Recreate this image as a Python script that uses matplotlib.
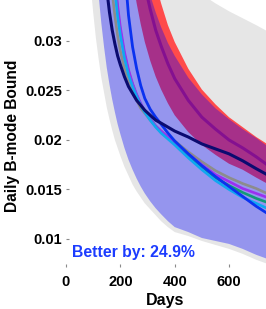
import numpy as np
import matplotlib
matplotlib.use("Agg")
import matplotlib.pyplot as plt

plt.rcParams['font.family'] = ['Liberation Sans', 'DejaVu Sans']
plt.rcParams['font.weight'] = 'bold'

# values (points above the top edge are just clipped)
days = [90, 100, 110, 120, 130, 140, 150, 160, 170, 180, 190, 200, 215, 230, 245,
        260, 275, 290, 310, 330, 350, 375, 400, 450, 500, 550, 600, 650, 700, 740]

# light gray envelope
env_lo = [0.0359, 0.0329, 0.0303, 0.0282, 0.0263, 0.0248, 0.0233, 0.0221, 0.0210, 0.0200,
          0.0192, 0.0184, 0.0173, 0.0164, 0.0155, 0.0148, 0.0142, 0.0136, 0.0130, 0.0124,
          0.0118, 0.0112, 0.0107, 0.0103, 0.0098, 0.0094, 0.0090, 0.0085, 0.0079, 0.0075]
env_hi = [0.20, 0.20, 0.20, 0.20, 0.20, 0.20, 0.20, 0.20, 0.20, 0.20,
          0.20, 0.20, 0.20, 0.20, 0.20, 0.20, 0.20, 0.20, 0.20, 0.20,
          0.20, 0.0410, 0.0390, 0.0362, 0.0347, 0.0338, 0.0330, 0.0323, 0.0316, 0.0310]

# blue band
blue_lo = [0.0476, 0.0423, 0.0380, 0.0346, 0.0318, 0.0294, 0.0273, 0.0256, 0.0241, 0.0228,
           0.0216, 0.0206, 0.0192, 0.0180, 0.0170, 0.0161, 0.0153, 0.0146, 0.0138, 0.0131,
           0.0125, 0.0118, 0.0112, 0.0107, 0.0101, 0.0098, 0.0095, 0.0090, 0.0084, 0.0080]
blue_hi = [0.150, 0.140, 0.130, 0.120, 0.110, 0.100, 0.087, 0.078, 0.070, 0.064,
           0.059, 0.0551, 0.0503, 0.0465, 0.0433, 0.0407, 0.0385, 0.0366, 0.0346, 0.0329,
           0.0314, 0.0298, 0.0285, 0.0263, 0.0246, 0.0232, 0.0221, 0.0211, 0.0202, 0.0194]

# red band and its centre line
red_lo = [0.130, 0.120, 0.110, 0.100, 0.095, 0.090, 0.085, 0.080, 0.068, 0.060,
          0.054, 0.0493, 0.0437, 0.0396, 0.0363, 0.0338, 0.0317, 0.0299, 0.0280, 0.0264,
          0.0251, 0.0237, 0.0225, 0.0208, 0.0195, 0.0185, 0.0176, 0.0170, 0.0162, 0.0156]
red_hi = [0.190, 0.180, 0.170, 0.160, 0.155, 0.150, 0.140, 0.1276, 0.1008, 0.0881,
          0.0786, 0.0712, 0.0626, 0.0562, 0.0512, 0.0472, 0.0440, 0.0412, 0.0383, 0.0358,
          0.0338, 0.0316, 0.0299, 0.0272, 0.0251, 0.0236, 0.0223, 0.0213, 0.0203, 0.0196]
red_mid = [0.160, 0.150, 0.140, 0.130, 0.125, 0.120, 0.110, 0.104, 0.085, 0.074,
           0.066, 0.0600, 0.0532, 0.0479, 0.0437, 0.0405, 0.0379, 0.0356, 0.0332, 0.0311,
           0.0295, 0.0277, 0.0262, 0.0240, 0.0223, 0.0211, 0.0200, 0.0192, 0.0183, 0.0175]

# lines
navy = [0.120, 0.0848, 0.0610, 0.0496, 0.0429, 0.0385, 0.0352, 0.0329, 0.0311, 0.0297,
        0.0285, 0.0276, 0.0264, 0.0254, 0.0247, 0.0240, 0.0235, 0.0230, 0.0225, 0.0220,
        0.0217, 0.0213, 0.0209, 0.0203, 0.0196, 0.0191, 0.0186, 0.0179, 0.0171, 0.0165]
blue_line = [0.200, 0.190, 0.180, 0.170, 0.160, 0.150, 0.130, 0.110, 0.090, 0.075,
             0.0564, 0.0461, 0.0375, 0.0326, 0.0294, 0.0272, 0.0255, 0.0242, 0.0231, 0.0223,
             0.0216, 0.0207, 0.0199, 0.0186, 0.0174, 0.0163, 0.0153, 0.0143, 0.0133, 0.0126]
purple = [0.300, 0.250, 0.200, 0.150, 0.108, 0.0708, 0.0545, 0.0459, 0.0403, 0.0364,
          0.0336, 0.0314, 0.0289, 0.0271, 0.0257, 0.0246, 0.0237, 0.0229, 0.0221, 0.0214,
          0.0209, 0.0203, 0.0198, 0.0186, 0.0175, 0.0165, 0.0158, 0.0151, 0.0146, 0.0142]
gray_line = [0.300, 0.200, 0.130, 0.0854, 0.0619, 0.0502, 0.0429, 0.0383, 0.0349, 0.0325,
             0.0305, 0.0290, 0.0272, 0.0259, 0.0248, 0.0240, 0.0232, 0.0227, 0.0220, 0.0214,
             0.0209, 0.0203, 0.0199, 0.0188, 0.0178, 0.0169, 0.0162, 0.0156, 0.0151, 0.0146]
teal = [0.300, 0.250, 0.200, 0.145, 0.097, 0.0666, 0.0523, 0.0445, 0.0394, 0.0358,
        0.0331, 0.0310, 0.0286, 0.0269, 0.0256, 0.0245, 0.0236, 0.0229, 0.0221, 0.0214,
        0.0208, 0.0202, 0.0197, 0.0184, 0.0173, 0.0162, 0.0154, 0.0147, 0.0141, 0.0137]
cyan = [0.300, 0.250, 0.200, 0.140, 0.087, 0.0625, 0.0502, 0.0431, 0.0384, 0.0351,
        0.0325, 0.0306, 0.0283, 0.0266, 0.0254, 0.0244, 0.0235, 0.0228, 0.0220, 0.0213,
        0.0207, 0.0201, 0.0195, 0.0182, 0.0170, 0.0159, 0.0150, 0.0142, 0.0136, 0.0131]

xticks = [0, 200, 400, 600]
yticks = [0.01, 0.015, 0.02, 0.025, 0.03]
ytick_labels = ['0.01', '0.015', '0.02', '0.025', '0.03']
note = 'Better by: 24.9%'

fig = plt.figure(figsize=(2.66, 3.09), dpi=100)
ax = fig.add_axes([66 / 266, 42 / 309, 200 / 266, 267 / 309])

ax.fill_between(days, env_lo, env_hi, color='#e6e6e6', lw=0, zorder=1)
ax.fill_between(days, red_lo, red_hi, color='#ff4b4b', lw=0, zorder=2)
ax.plot(days, red_mid, color='#cc1a55', lw=2.2, zorder=3)
ax.fill_between(days, blue_lo, blue_hi, color='#0000ff', alpha=0.35, lw=0, zorder=4)

ax.plot(days, gray_line, color='#8c8c8c', lw=1.9, zorder=5)
ax.plot(days, teal, color='#129a78', lw=1.9, zorder=5)
ax.plot(days, purple, color='#9b30f0', lw=1.9, zorder=6)
ax.plot(days, cyan, color='#10a8f0', lw=1.9, zorder=6)
ax.plot(days, blue_line, color='#0a32f0', lw=2.0, zorder=7)
ax.plot(days, navy, color='#0b0b70', lw=2.2, zorder=8)

ax.text(22, 0.00864, note, color='#1c3cff', fontsize=11.3, fontweight='bold',
        ha='left', va='center', zorder=9)

ax.set_xlim(0, 736)
ax.set_ylim(0.00717, 0.03414)
ax.set_xticks(xticks)
ax.set_xticklabels([str(t) for t in xticks])
ax.set_yticks(yticks)
ax.set_yticklabels(ytick_labels)
for s in ax.spines.values():
    s.set_visible(False)
ax.tick_params(axis='both', direction='in', length=2.2, width=0.8, color='#8a8a8a',
               labelsize=10.5)
ax.tick_params(axis='y', pad=3)
ax.tick_params(axis='x', pad=6)

fig.text(165.5 / 266, 1 - 300 / 309, 'Days', ha='center', va='center',
         fontsize=11.5, fontweight='bold')
fig.text(12.5 / 266, 1 - 136 / 309, 'Daily B-mode Bound', ha='center', va='center',
         rotation=90, fontsize=11.2, fontweight='bold')

fig.savefig('out.png', dpi=100)
